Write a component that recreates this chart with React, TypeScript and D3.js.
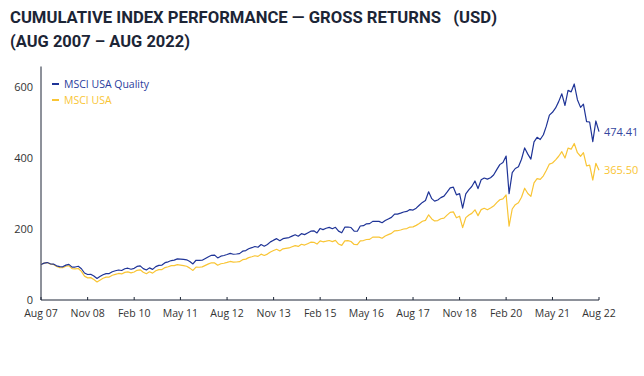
import React from "react";
import * as d3 from "d3";

const TITLE_1 = "CUMULATIVE INDEX PERFORMANCE \u2014 GROSS RETURNS   (USD)";
const TITLE_2 = "(AUG 2007 \u2013 AUG 2022)";

const SERIES_NAMES = ["MSCI USA Quality", "MSCI USA"];
const START_MONTH = new Date(2007, 7, 1);
const END_MONTH = new Date(2022, 7, 1);

// Monthly index levels (Aug 2007 = 100), Aug 2007 .. Aug 2022
const quality = [
  100.0, 103.8, 105.5, 102.0, 101.3, 96.3, 93.9, 93.6, 98.2, 100.4, 92.7, 92.9,
  95.0, 88.1, 76.0, 71.8, 72.5, 67.5, 60.7, 66.0, 71.1, 74.3, 74.4, 79.5,
  82.3, 84.5, 83.1, 88.0, 89.6, 86.6, 89.2, 94.5, 96.1, 88.4, 84.5, 90.5,
  86.3, 94.1, 97.7, 98.4, 105.1, 107.6, 111.2, 112.4, 115.8, 115.2, 114.5, 113.2,
  108.7, 101.7, 112.0, 111.7, 112.0, 117.0, 122.0, 126.0, 126.3, 118.6, 123.5, 125.4,
  128.1, 131.4, 128.9, 129.6, 130.6, 137.5, 139.3, 144.5, 147.4, 150.8, 148.7, 156.3,
  151.7, 156.5, 163.7, 168.6, 172.9, 167.1, 172.9, 174.5, 175.9, 179.9, 183.7, 179.7,
  186.8, 184.2, 188.9, 193.9, 195.0, 189.1, 201.6, 198.4, 202.2, 204.5, 200.7, 204.8,
  194.0, 189.3, 205.2, 205.7, 204.2, 194.1, 193.7, 208.5, 209.4, 214.7, 215.2, 221.5,
  221.6, 221.6, 217.6, 223.8, 228.3, 232.7, 241.8, 242.0, 244.7, 248.0, 249.6, 254.8,
  253.4, 258.7, 267.1, 275.0, 280.5, 304.8, 285.6, 278.5, 281.9, 288.4, 292.7, 303.7,
  316.0, 317.8, 296.3, 299.7, 259.1, 299.3, 311.1, 319.8, 335.5, 313.9, 338.6, 343.7,
  340.5, 344.5, 352.1, 367.4, 381.4, 387.6, 405.5, 299.5, 359.0, 370.5, 375.2, 396.6,
  428.4, 411.0, 397.1, 445.5, 458.3, 452.2, 465.5, 489.1, 520.9, 528.8, 541.2, 558.9,
  581.0, 548.0, 590.6, 586.5, 608.6, 564.4, 542.7, 552.0, 502.7, 501.6, 446.2, 504.4,
  474.41,
];

const usa = [
  100.0, 103.8, 105.5, 101.0, 100.3, 94.4, 91.2, 90.9, 95.3, 96.5, 88.3, 87.6,
  88.8, 80.8, 67.3, 62.4, 63.0, 57.7, 51.0, 55.9, 61.3, 64.6, 64.7, 69.7,
  72.2, 74.8, 73.5, 77.9, 79.3, 76.6, 78.9, 83.6, 85.0, 78.2, 74.1, 79.4,
  75.7, 82.5, 85.7, 85.6, 91.4, 93.6, 96.7, 96.9, 99.8, 98.5, 97.0, 95.1,
  89.8, 83.4, 92.6, 92.3, 93.3, 97.5, 101.7, 105.0, 104.4, 98.0, 102.1, 103.6,
  105.9, 108.6, 106.5, 107.1, 107.9, 113.6, 115.1, 119.4, 121.8, 124.6, 122.9, 129.2,
  125.4, 129.3, 135.3, 139.3, 142.9, 138.1, 144.1, 145.4, 146.6, 149.9, 153.1, 151.0,
  157.0, 154.8, 158.7, 162.9, 162.5, 157.6, 166.6, 164.0, 165.7, 167.6, 164.5, 167.9,
  157.7, 153.9, 166.8, 167.2, 164.7, 156.5, 156.2, 166.8, 167.5, 170.4, 170.8, 177.2,
  177.3, 177.3, 174.1, 180.5, 184.1, 187.7, 195.0, 195.2, 197.3, 200.0, 201.3, 205.5,
  206.0, 210.3, 215.4, 221.8, 224.4, 240.0, 228.5, 222.8, 223.7, 228.9, 230.5, 239.1,
  246.9, 248.3, 231.5, 236.0, 204.0, 232.0, 239.3, 244.1, 254.2, 237.8, 254.6, 258.4,
  254.1, 259.0, 264.7, 274.2, 282.5, 285.0, 296.0, 208.0, 256.4, 268.5, 273.9, 289.5,
  315.0, 300.0, 292.0, 330.0, 342.0, 340.0, 350.0, 365.0, 383.0, 386.0, 395.0, 405.0,
  418.0, 400.0, 428.0, 425.0, 441.0, 415.0, 405.0, 415.0, 378.0, 380.0, 338.0, 385.0,
  365.5,
];

const Y_TICKS = [0, 200, 400, 600];
const X_TICK_LABELS = [
  "Aug 07", "Nov 08", "Feb 10", "May 11", "Aug 12", "Nov 13", "Feb 15",
  "May 16", "Aug 17", "Nov 18", "Feb 20", "May 21", "Aug 22",
];

const COLORS = { quality: "#1f3497", usa: "#f9c535", axis: "#1c2536", text: "#333333", title: "#1c2536" };

export default function App() {
  const W = 644;
  const H = 376;
  const left = 41;
  const right = 599;
  const bottom = 300;
  const top = 69.3;

  const months = d3.timeMonth.range(START_MONTH, d3.timeMonth.offset(END_MONTH, 1));
  const x = d3.scaleTime().domain([START_MONTH, END_MONTH]).range([left, right]);
  const y = d3.scaleLinear().domain([0, 650]).range([bottom, top]);

  const xTicks = X_TICK_LABELS.map((lab, i) => ({ lab, d: d3.timeMonth.offset(START_MONTH, i * 15) }));

  const line = d3
    .line<number>()
    .x((_, i) => x(months[i]))
    .y((v) => y(v));

  const font = "'Open Sans', 'Noto Sans', sans-serif";
  const lastQ = quality[quality.length - 1];
  const lastU = usa[usa.length - 1];

  return (
    <svg width={W} height={H} style={{ position: "absolute", left: 0, top: 0, background: "#fff" }}>
      <rect x={0} y={0} width={W} height={H} fill="#fff" />
      <text
        x={10}
        y={22.5}
        fontFamily="Roboto, sans-serif"
        fontWeight={700}
        fontSize={17}
        fill={COLORS.title}
        textLength={487}
        lengthAdjust="spacingAndGlyphs"
        style={{ whiteSpace: "pre" }}
      >
        {TITLE_1}
      </text>
      <text
        x={10}
        y={46.5}
        fontFamily="Roboto, sans-serif"
        fontWeight={700}
        fontSize={17}
        fill={COLORS.title}
        textLength={180}
        lengthAdjust="spacingAndGlyphs"
      >
        {TITLE_2}
      </text>

      {/* y tick labels */}
      {Y_TICKS.map((t) => (
        <text key={t} x={33} y={y(t) + 4} textAnchor="end" fontFamily={font} fontSize={11} fill={COLORS.text}>
          {t}
        </text>
      ))}

      {/* axes */}
      <line x1={left} x2={left} y1={66.5} y2={bottom} stroke={COLORS.axis} strokeWidth={1} />
      <line x1={left} x2={right} y1={bottom} y2={bottom} stroke={COLORS.axis} strokeWidth={1} />
      {xTicks.map((t) => (
        <g key={t.lab}>
          <line x1={x(t.d)} x2={x(t.d)} y1={bottom - 3} y2={bottom} stroke={COLORS.axis} strokeWidth={1} />
          <text x={x(t.d)} y={317} textAnchor="middle" fontFamily={font} fontSize={10.5} fill={COLORS.text}>
            {t.lab}
          </text>
        </g>
      ))}

      {/* series */}
      <path d={line(usa) || ""} fill="none" stroke={COLORS.usa} strokeWidth={1.2} strokeLinejoin="round" />
      <path d={line(quality) || ""} fill="none" stroke={COLORS.quality} strokeWidth={1.2} strokeLinejoin="round" />

      {/* end labels */}
      <text x={604} y={y(lastQ) + 4} fontFamily={font} fontSize={11} fill="#3546a0">
        {d3.format(".2f")(lastQ)}
      </text>
      <text x={604} y={y(lastU) + 4} fontFamily={font} fontSize={11} fill={COLORS.usa}>
        {d3.format(".2f")(lastU)}
      </text>

      {/* legend */}
      <line x1={52} x2={59} y1={84} y2={84} stroke={COLORS.quality} strokeWidth={2} />
      <text x={64} y={88} fontFamily={font} fontSize={10.5} fill="#2a3c9c">
        {SERIES_NAMES[0]}
      </text>
      <line x1={52} x2={59} y1={100} y2={100} stroke={COLORS.usa} strokeWidth={2} />
      <text x={64} y={104} fontFamily={font} fontSize={10.5} fill={COLORS.usa}>
        {SERIES_NAMES[1]}
      </text>
    </svg>
  );
}
